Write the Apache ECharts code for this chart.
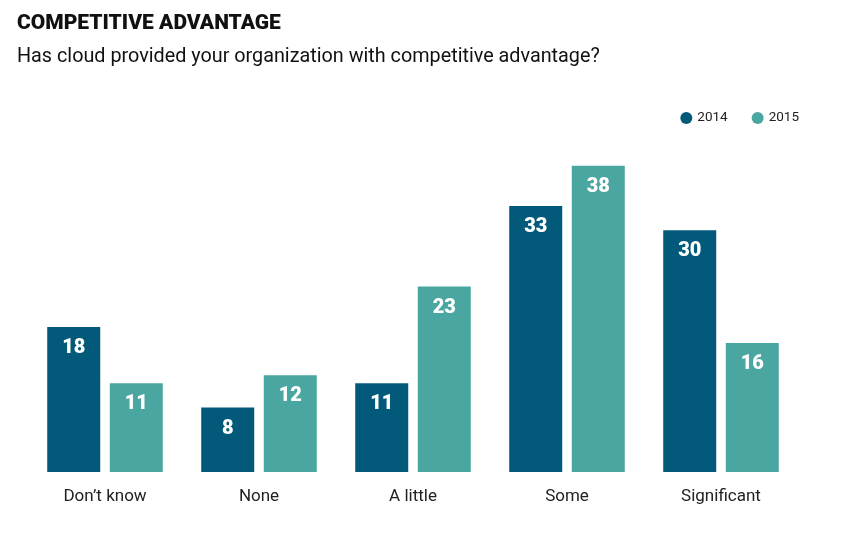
<!DOCTYPE html>
<html><head><meta charset="utf-8">
<script src="https://cdn.jsdelivr.net/npm/echarts@6/dist/echarts.min.js"></script>
<style>html,body{margin:0;padding:0;background:#fff}#c{width:844px;height:538px}</style>
</head><body><div id="c"></div>
<script>
const categories = ["Don\u2019t know", "None", "A little", "Some", "Significant"];
const seriesNames = ["2014", "2015"];
const values2014 = [18, 8, 11, 33, 30];
const values2015 = [11, 12, 23, 38, 16];
const colors = ["#03597a", "#4aa6a0"];

const chart = echarts.init(document.getElementById('c'), null, {renderer: 'canvas'});
const labelStyle = {
  show: true, position: 'insideTop', distance: 11, color: '#fff',
  fontFamily: 'Roboto', fontWeight: 900, fontSize: 20
};
chart.setOption({
  animation: false,
  title: [
    {text: 'COMPETITIVE ADVANTAGE', left: 12, top: 8,
     textStyle: {fontFamily: 'Roboto', fontWeight: 900, fontSize: 21, color: '#111'}},
    {text: 'Has cloud provided your organization with competitive advantage?', left: 12, top: 42,
     textStyle: {fontFamily: 'Roboto', fontWeight: 'normal', fontSize: 19.8, color: '#111'}}
  ],
  legend: {
    data: seriesNames, right: 40, top: 106, icon: 'circle', itemWidth: 12, itemHeight: 12, itemGap: 24,
    textStyle: {fontFamily: 'Roboto', fontSize: 13.5, color: '#222'}
  },
  grid: {left: 28, right: 46, top: 69, bottom: 66},
  xAxis: {
    type: 'category', data: categories,
    axisLine: {show: false}, axisTick: {show: false},
    axisLabel: {fontFamily: 'Roboto', fontSize: 17, color: '#222', margin: 16}
  },
  yAxis: {type: 'value', min: 0, max: 50, show: false, splitLine: {show: false}},
  series: [
    {name: seriesNames[0], type: 'bar', data: values2014, barWidth: 53, barGap: '18%',
     itemStyle: {color: colors[0]}, label: labelStyle},
    {name: seriesNames[1], type: 'bar', data: values2015, barWidth: 53,
     itemStyle: {color: colors[1]}, label: labelStyle}
  ]
});
</script></body></html>
